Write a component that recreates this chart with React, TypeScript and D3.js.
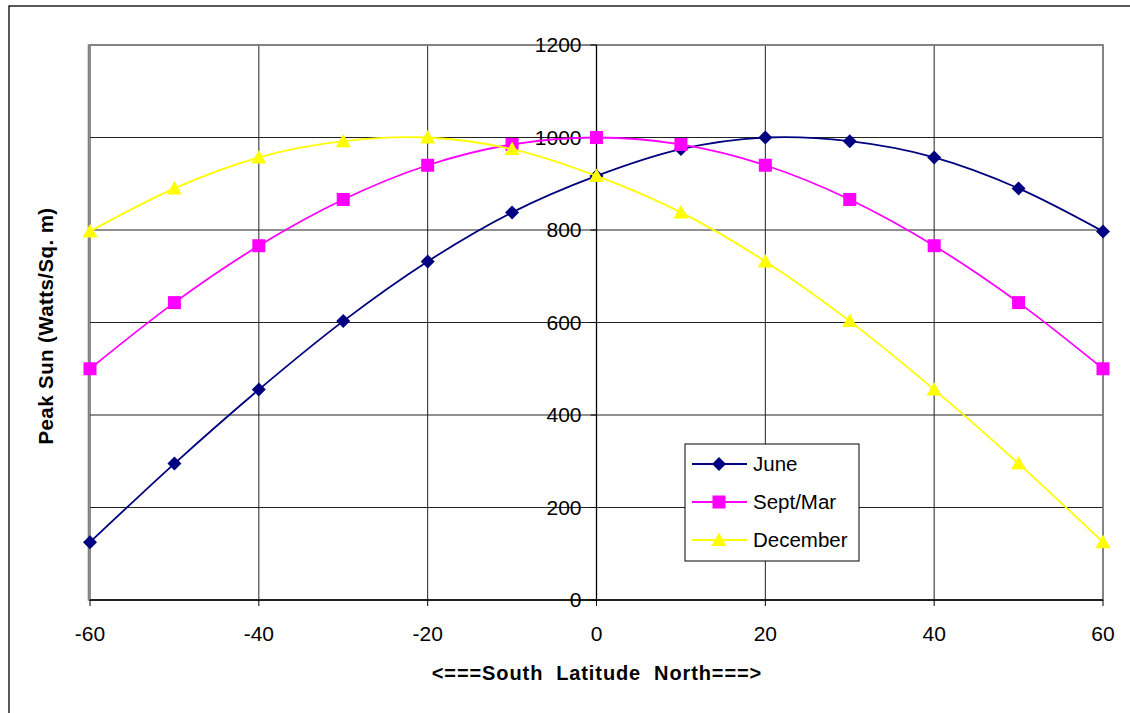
import React from "react";
import * as d3 from "d3";

const latitudes = [-60, -50, -40, -30, -20, -10, 0, 10, 20, 30, 40, 50, 60];
const june = [125, 295, 455, 603, 732, 838, 917, 975, 1000, 992, 957, 890, 797];
const septMar = [500, 643, 766, 866, 940, 985, 1000, 985, 940, 866, 766, 643, 500];
const december = [797, 890, 957, 992, 1000, 975, 917, 838, 732, 603, 455, 295, 125];
const xTicks = [-60, -40, -20, 0, 20, 40, 60];
const yTicks = [0, 200, 400, 600, 800, 1000, 1200];
const seriesNames = ["June", "Sept/Mar", "December"];
const seriesColors = ["#000080", "#FF00FF", "#FFFF00"];
const seriesData = [june, septMar, december];

const W = 1130;
const H = 713;
const plot = { left: 90, right: 1103, top: 45, bottom: 600 };

function Marker({ kind, x, y, color }: { kind: number; x: number; y: number; color: string }) {
  if (kind === 0) {
    const r = 7;
    return <path d={`M${x},${y - r}L${x + r},${y}L${x},${y + r}L${x - r},${y}Z`} fill={color} />;
  }
  if (kind === 1) {
    const s = 13;
    return <rect x={x - s / 2} y={y - s / 2} width={s} height={s} fill={color} />;
  }
  const r = 7.5;
  return <path d={`M${x},${y - r}L${x + r},${y + r * 0.8}L${x - r},${y + r * 0.8}Z`} fill={color} />;
}

export default function App() {
  const x = d3.scaleLinear().domain([-60, 60]).range([plot.left, plot.right]);
  const y = d3.scaleLinear().domain([0, 1200]).range([plot.bottom, plot.top]);
  const line = d3
    .line<number>()
    .x((_, i) => x(latitudes[i]))
    .y((d) => y(d))
    .curve(d3.curveCardinal.tension(0));

  const font = "'Liberation Sans', Arial, sans-serif";
  const legend = { x: 685, y: 444, w: 174, h: 117 };

  return (
    <svg
      width={W}
      height={H}
      style={{ position: "absolute", left: 0, top: 0, background: "#fff" }}
      fontFamily={font}
    >
      <rect x={0} y={0} width={W} height={H} fill="#fff" />
      {/* outer frame */}
      <rect x={9} y={6} width={1140} height={730} fill="none" stroke="#000" strokeWidth={1.3} />

      {/* horizontal gridlines */}
      {yTicks.map((t) => (
        <line key={"hg" + t} x1={plot.left} x2={plot.right} y1={y(t)} y2={y(t)} stroke="#222" strokeWidth={1} />
      ))}
      {/* vertical gridlines */}
      {xTicks.map((t) => (
        <line key={"vg" + t} x1={x(t)} x2={x(t)} y1={plot.top} y2={plot.bottom} stroke="#222" strokeWidth={1} />
      ))}
      {/* plot border */}
      <rect
        x={plot.left - 1.5}
        y={plot.top}
        width={plot.right - plot.left + 1.5}
        height={plot.bottom - plot.top}
        fill="none"
        stroke="#808080"
        strokeWidth={1.6}
      />

      {/* x axis at y=0 */}
      <line x1={plot.left} x2={plot.right} y1={y(0)} y2={y(0)} stroke="#000" strokeWidth={1.3} />
      {xTicks.map((t) => (
        <line key={"xt" + t} x1={x(t)} x2={x(t)} y1={y(0)} y2={y(0) + 6} stroke="#000" strokeWidth={1} />
      ))}
      {xTicks.map((t) => (
        <text key={"xl" + t} x={x(t)} y={641} textAnchor="middle" fontSize={21} fill="#000">
          {t}
        </text>
      ))}

      {/* y axis at x=0 */}
      <line x1={x(0)} x2={x(0)} y1={plot.top} y2={plot.bottom} stroke="#000" strokeWidth={1.3} />
      {yTicks.map((t) => (
        <line key={"yt" + t} x1={x(0) - 6} x2={x(0)} y1={y(t)} y2={y(t)} stroke="#000" strokeWidth={1} />
      ))}
      {yTicks.map((t) => (
        <text key={"yl" + t} x={x(0) - 15} y={y(t) + 7} textAnchor="end" fontSize={21} fill="#000">
          {t}
        </text>
      ))}

      {/* series */}
      {seriesData.map((s, si) => (
        <g key={"s" + si}>
          <path d={line(s) || ""} fill="none" stroke={seriesColors[si]} strokeWidth={1.8} />
          {s.map((v, i) => (
            <Marker key={i} kind={si} x={x(latitudes[i])} y={y(v)} color={seriesColors[si]} />
          ))}
        </g>
      ))}

      {/* legend */}
      <rect x={legend.x} y={legend.y} width={legend.w} height={legend.h} fill="#fff" stroke="#000" strokeWidth={1} />
      {seriesNames.map((n, i) => {
        const cy = 464 + i * 38;
        return (
          <g key={"lg" + n}>
            <line x1={692} x2={747} y1={cy} y2={cy} stroke={seriesColors[i]} strokeWidth={1.8} />
            <Marker kind={i} x={719} y={cy} color={seriesColors[i]} />
            <text x={753} y={cy + 7} fontSize={20.5} fill="#000">
              {n}
            </text>
          </g>
        );
      })}

      {/* axis titles */}
      <text
        x={597}
        y={680}
        textAnchor="middle"
        fontSize={20}
        fontWeight="bold"
        letterSpacing={0.9}
        fill="#000"
        style={{ whiteSpace: "pre" }}
      >
        {"<===South  Latitude  North===>"}
      </text>
      <text
        transform={`translate(53, ${326}) rotate(-90)`}
        textAnchor="middle"
        fontSize={20.5}
        fontWeight="bold"
        letterSpacing={0.4}
        fill="#000"
      >
        Peak Sun (Watts/Sq. m)
      </text>
    </svg>
  );
}
